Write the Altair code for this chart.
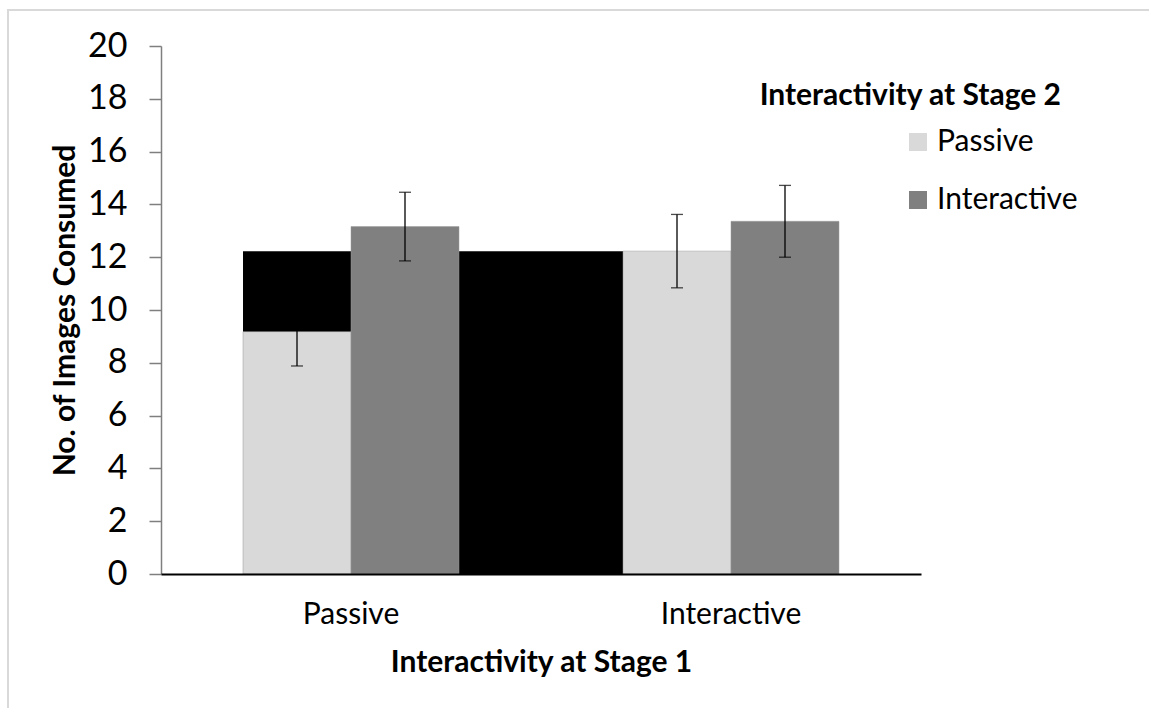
import altair as alt
import pandas as pd

# Mean number of images consumed, by interactivity at stage 1 and stage 2
stage1 = ["Passive", "Passive", "Interactive", "Interactive"]
stage2 = ["Passive", "Interactive", "Passive", "Interactive"]
means = [9.18, 13.16, 12.23, 13.36]
errors = [1.30, 1.30, 1.39, 1.36]

# Solid block running from the first group's bars to the second group's
block_start = ["Passive"]
block_end = ["Interactive"]
block_value = [12.23]

categories = ["Passive", "Interactive"]
colors = ["#d9d9d9", "#808080"]
y_ticks = [0, 2, 4, 6, 8, 10, 12, 14, 16, 18, 20]

FONT = "Lato"

bars_df = pd.DataFrame({"stage1": stage1, "stage2": stage2, "mean": means, "err": errors})
block_df = pd.DataFrame({"start": block_start, "end": block_end, "value": block_value})

x_scale = alt.Scale(domain=categories, paddingInner=0.4316, paddingOuter=0.2158)
off_scale = alt.Scale(domain=categories, paddingInner=0, paddingOuter=0)
y_scale = alt.Scale(domain=[0, 20], nice=False)

x_axis = alt.Axis(
    title="Interactivity at Stage 1",
    labelAngle=0,
    ticks=False,
    tickSize=0,
    domainColor="#000000",
    domainWidth=2,
    labelFont=FONT,
    labelFontSize=30,
    labelColor="#000000",
    labelPadding=25,
    titleFont=FONT,
    titleFontSize=30,
    titleFontWeight="bold",
    titleColor="#000000",
    titlePadding=18,
)
y_axis = alt.Axis(
    title="No. of Images Consumed",
    values=y_ticks,
    grid=False,
    domainColor="#7f7f7f",
    domainWidth=1.5,
    tickColor="#7f7f7f",
    tickWidth=1.5,
    tickSize=12,
    labelFont=FONT,
    labelFontSize=34,
    labelColor="#000000",
    labelPadding=22,
    titleFont=FONT,
    titleFontSize=30,
    titleFontWeight="bold",
    titleColor="#000000",
    titlePadding=7,
)

frame = alt.Chart(block_df).mark_rect(
    fillOpacity=0, stroke="#d9d9d9", strokeWidth=2
).encode(
    x=alt.value(-153), x2=alt.value(998), y=alt.value(-36), y2=alt.value(672)
)

block = alt.Chart(block_df).mark_rect(color="#000000").encode(
    x=alt.X("start:N", bandPosition=0, scale=x_scale, axis=x_axis),
    x2=alt.X2("end", bandPosition=0),
    y=alt.Y("value:Q", scale=y_scale, axis=y_axis),
    y2=alt.datum(0),
)

bars = alt.Chart(bars_df).mark_bar(stroke="#9a9a9a", strokeWidth=0.5).encode(
    x=alt.X("stage1:N", scale=x_scale, axis=x_axis),
    xOffset=alt.XOffset("stage2:N", scale=off_scale),
    y=alt.Y("mean:Q", scale=y_scale, axis=y_axis),
    color=alt.Color(
        "stage2:N",
        scale=alt.Scale(domain=categories, range=colors),
        legend=alt.Legend(
            title=None,
            orient="none",
            legendX=742,
            legendY=81,
            symbolType="square",
            symbolSize=324,
            symbolStrokeWidth=0,
            labelFont=FONT,
            labelFontSize=30,
            labelColor="#000000",
            labelOffset=4,
            rowPadding=28,
            padding=0,
        ),
    ),
)

err_base = alt.Chart(bars_df).transform_calculate(
    lo="datum.mean - datum.err", hi="datum.mean + datum.err"
)

err_rule = err_base.mark_rule(color="#000000", strokeWidth=1.3).encode(
    x=alt.X("stage1:N", scale=x_scale, axis=x_axis),
    xOffset=alt.XOffset("stage2:N", scale=off_scale),
    y=alt.Y("lo:Q", scale=y_scale, axis=y_axis),
    y2="hi:Q",
)
cap_lo = err_base.mark_tick(color="#000000", thickness=1.3, size=12, orient="horizontal").encode(
    x=alt.X("stage1:N", scale=x_scale, axis=x_axis),
    xOffset=alt.XOffset("stage2:N", scale=off_scale),
    y=alt.Y("lo:Q", scale=y_scale, axis=y_axis),
)
cap_hi = err_base.mark_tick(color="#000000", thickness=1.3, size=12, orient="horizontal").encode(
    x=alt.X("stage1:N", scale=x_scale, axis=x_axis),
    xOffset=alt.XOffset("stage2:N", scale=off_scale),
    y=alt.Y("hi:Q", scale=y_scale, axis=y_axis),
)

legend_title = alt.Chart(block_df).mark_text(
    font=FONT, fontSize=30, fontWeight="bold", color="#000000",
    align="right", baseline="alphabetic",
).encode(
    x=alt.value(900), y=alt.value(59), text=alt.value("Interactivity at Stage 2")
)

chart = alt.layer(
    frame, block, bars, err_rule, cap_lo, cap_hi, legend_title
).properties(
    width=760,
    height=528,
    autosize=alt.AutoSizeParams(type="none"),
    padding={"left": 161, "top": 46, "right": 228, "bottom": 134},
    background="#ffffff",
).configure_view(stroke=None)

chart.save("out.html", embed_options={"renderer": "svg", "actions": False})
